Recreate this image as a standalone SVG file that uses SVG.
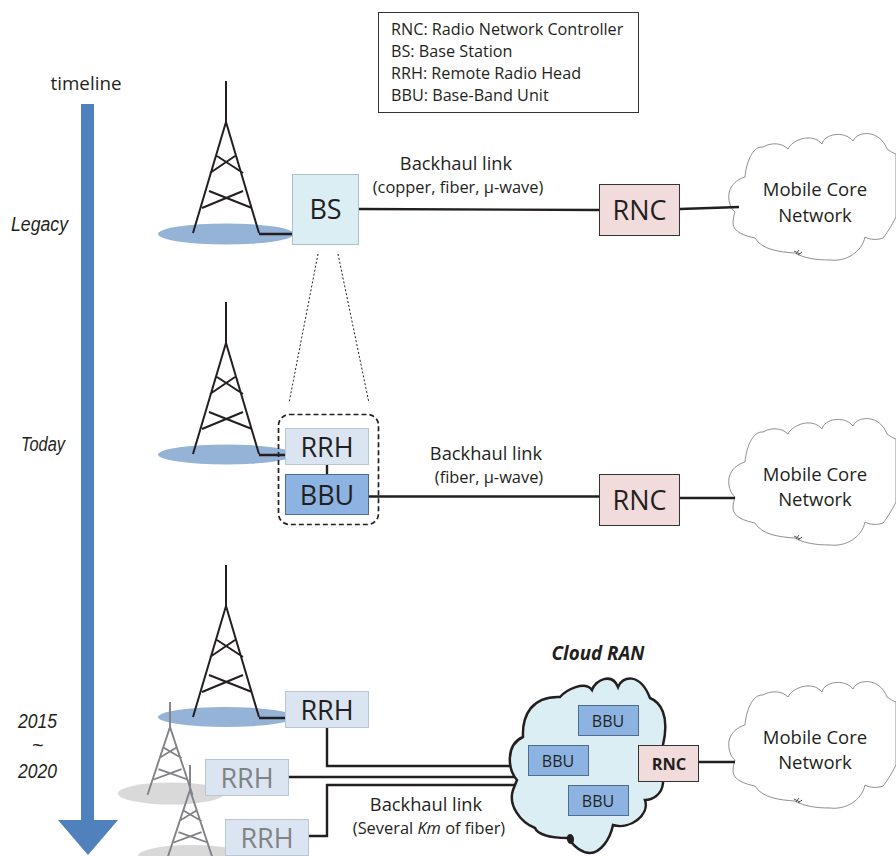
<svg xmlns="http://www.w3.org/2000/svg" xmlns:xlink="http://www.w3.org/1999/xlink" width="896" height="856" viewBox="0 0 896 856">
<style>
text{font-family:"Open Sans","Noto Sans","Liberation Sans",sans-serif;fill:#231f20;text-anchor:middle}
.m{font-size:18.500px}.bb{font-size:16px}.big{font-size:27px}
.bh{font-size:18.300px}.sub{font-size:16.400px}
.lg{font-size:16.200px;text-anchor:start}
.it{font-family:"Liberation Sans",sans-serif;font-style:italic;font-size:20px}
.gy{fill:#808285}
.tw{fill:none;stroke:#231f20;stroke-width:2}
.lk{fill:none;stroke:#231f20;stroke-width:2.400}
.cl{fill:#fff;stroke:#808285;stroke-width:.9}
.rrh{fill:#dbe5f1;stroke:#b8c6d8;stroke-width:1}
.bbu{fill:#8db3e2;stroke:#4f6b8f;stroke-width:1}
.rnc{fill:#f2dcdb;stroke:#333;stroke-width:1}
</style>
<defs>
<g id="tower">
<path d="M226 81V122M193 233L226 122L259 233M217 156L243 173M235 156L210 173M209 191L252 208M243 191L202 208"/>
</g>
<g id="mcn">
<path class="cl" d="M745 177C746 164 752 146 763 147C772 142 782 143 788 149C792 140 812 132 822 144C824 134 844 130 853 141C858 130 880 130 887 149C890 151 893 153 896 154V217C894 221 888 232 883 238C878 240 870 240 865 237C862 252 846 262 830 260C815 260 804 258 795 253C780 252 762 250 755 238C745 236 733 232 733 223C733 219 734 215 735 212C730 208 728 200 729 193C731 184 738 179 745 177Z"/>
<path fill="none" stroke="#555" stroke-width="1" d="M794 251L800 254M796 254L799 250M798 255L802 252"/>
</g>
</defs>

<g id="timeline">
<path fill="#4f81bd" d="M81 104H94V820H118L88 855L58 820H81Z"/>
<text x="86" y="90" font-size="18.800">timeline</text>
</g>
<g id="legend">
<rect x="378.500" y="12.500" width="260" height="100" fill="#fff" stroke="#333" stroke-width="1"/>
<text class="lg" x="391" y="35">RNC: Radio Network Controller</text>
<text class="lg" x="391" y="57">BS: Base Station</text>
<text class="lg" x="391" y="79">RRH: Remote Radio Head</text>
<text class="lg" x="391" y="101">BBU: Base-Band Unit</text>
</g>
<text class="it" x="39.500" y="231" textLength="57" lengthAdjust="spacingAndGlyphs">Legacy</text>
<text class="it" x="43" y="451" textLength="44" lengthAdjust="spacingAndGlyphs">Today</text>
<text class="it" x="37.500" y="728" textLength="39" lengthAdjust="spacingAndGlyphs">2015</text>
<text class="it" x="37.500" y="752">~</text>
<text class="it" x="37.500" y="778" textLength="39" lengthAdjust="spacingAndGlyphs">2020</text>

<ellipse id="cell-legacy" cx="226" cy="234" rx="68" ry="10.500" fill="#95b3d7"/>
<ellipse id="cell-today" cx="226" cy="454.500" rx="68" ry="10" fill="#95b3d7"/>
<ellipse id="cell-cran" cx="226" cy="717" rx="68" ry="10" fill="#95b3d7"/>
<ellipse id="cell-g1" cx="171" cy="793.500" rx="53" ry="11" fill="#d9d9da"/>
<ellipse id="cell-g2" cx="191" cy="856" rx="53" ry="11" fill="#d9d9da"/>

<g id="tower-legacy" class="tw"><use xlink:href="#tower" href="#tower"/></g>
<g id="tower-today" class="tw"><use xlink:href="#tower" href="#tower" y="221"/></g>
<g id="tower-cran" class="tw"><use xlink:href="#tower" href="#tower" y="484"/></g>
<g id="tower-g1" fill="none" stroke="#808285" stroke-width="2.800"><use xlink:href="#tower" href="#tower" transform="translate(170 702) scale(.68 .61) translate(-226 -81)"/></g>
<g id="tower-g2" fill="none" stroke="#808285" stroke-width="2.800"><use xlink:href="#tower" href="#tower" transform="translate(190 765) scale(.68 .61) translate(-226 -81)"/></g>

<g id="cloud-1"><use xlink:href="#mcn" href="#mcn"/><text class="m" x="815" y="196">Mobile Core</text><text class="m" x="815" y="222">Network</text></g>
<g id="cloud-2"><use xlink:href="#mcn" href="#mcn" y="285"/><text class="m" x="815" y="481">Mobile Core</text><text class="m" x="815" y="506">Network</text></g>
<g id="cloud-3"><use xlink:href="#mcn" href="#mcn" y="548"/><text class="m" x="815" y="744">Mobile Core</text><text class="m" x="815" y="769">Network</text></g>

<g id="connectors">
<path class="lk" d="M359 209L599 210M259 234H292M680 209L739 207"/>
<path class="lk" d="M259 455H285M327 464V474M369 496.500H599M680 498H735"/>
<path class="lk" d="M259 718H285M327 728V766H520M289 777H520M309 836H327V785H520M699 762H735"/>
<path fill="none" stroke="#231f20" stroke-width="1" stroke-dasharray="2 2" d="M318 254L289 403M338 254L369 403"/>
</g>

<g id="cloud-ran">
<path fill="#dbeef4" stroke="#231f20" stroke-width="2.500" d="M523 737C522 715 532 696 560 697C566 690 585 680 592 690C595 680 612 672 618 687C622 676 640 672 650 698C660 702 670 715 663 745L663 783C662 795 652 800 645 800C650 815 630 830 613 825C610 840 600 853 590 853C580 853 573 845 568 838C552 838 538 835 535 828C520 822 508 805 513 790L517 780C508 770 505 745 523 737Z"/>
<path fill="#231f20" d="M567 840c-1-3 1-6 3-6s4 2 4 5-1 5-3 5-3-1-4-4Z"/>
<text x="598" y="660" font-size="18.800" font-weight="700" font-style="italic">Cloud RAN</text>
</g>

<g id="bs"><rect x="292.500" y="174.500" width="66" height="70" fill="#dbeef4" stroke="#adbfc9"/><text class="big" x="325.500" y="219">BS</text></g>
<g id="rnc-1"><rect class="rnc" x="599.500" y="184.500" width="80" height="51"/><text class="big" x="639.500" y="220">RNC</text></g>
<g id="rnc-2"><rect class="rnc" x="599.500" y="474.500" width="80" height="51"/><text class="big" x="639.500" y="510">RNC</text></g>
<g id="today-site">
<rect x="278.500" y="414.500" width="100" height="110" rx="11" fill="none" stroke="#231f20" stroke-width="1.700" stroke-dasharray="5 3"/>
<g id="rrh-today"><rect class="rrh" x="285.500" y="428.500" width="83" height="36"/><text class="big" x="327" y="457">RRH</text></g>
<g id="bbu-today"><rect class="bbu" x="285.500" y="474.500" width="83" height="40"/><text class="big" x="327" y="505">BBU</text></g>
</g>
<g id="rrh-cran"><rect class="rrh" x="285.500" y="691.500" width="83" height="36"/><text class="big" x="327" y="720">RRH</text></g>
<g id="rrh-g1"><rect class="rrh" x="205.500" y="759.500" width="83" height="36"/><text class="big gy" x="247" y="788">RRH</text></g>
<g id="rrh-g2"><rect class="rrh" x="225.500" y="819.500" width="83" height="36"/><text class="big gy" x="267" y="848">RRH</text></g>
<g id="bbu-1"><rect class="bbu" x="578.500" y="705.500" width="60" height="30"/><text class="bb" x="608" y="727">BBU</text></g>
<g id="bbu-2"><rect class="bbu" x="528.500" y="745.500" width="60" height="30"/><text class="bb" x="558" y="767">BBU</text></g>
<g id="bbu-3"><rect class="bbu" x="568.500" y="785.500" width="60" height="30"/><text class="bb" x="598" y="807">BBU</text></g>
<g id="rnc-3"><rect class="rnc" x="638.500" y="745.500" width="60" height="36"/><text x="669" y="770" font-size="16.400" font-weight="700">RNC</text></g>

<text class="bh" x="456" y="170">Backhaul link</text>
<text class="sub" x="458" y="193">(copper, fiber, µ-wave)</text>
<text class="bh" x="486" y="460">Backhaul link</text>
<text class="sub" x="489" y="483">(fiber, µ-wave)</text>
<text class="bh" x="426" y="811">Backhaul link</text>
<text class="sub" x="429" y="834">(Several <tspan font-style="italic">Km</tspan> of fiber)</text>
</svg>
